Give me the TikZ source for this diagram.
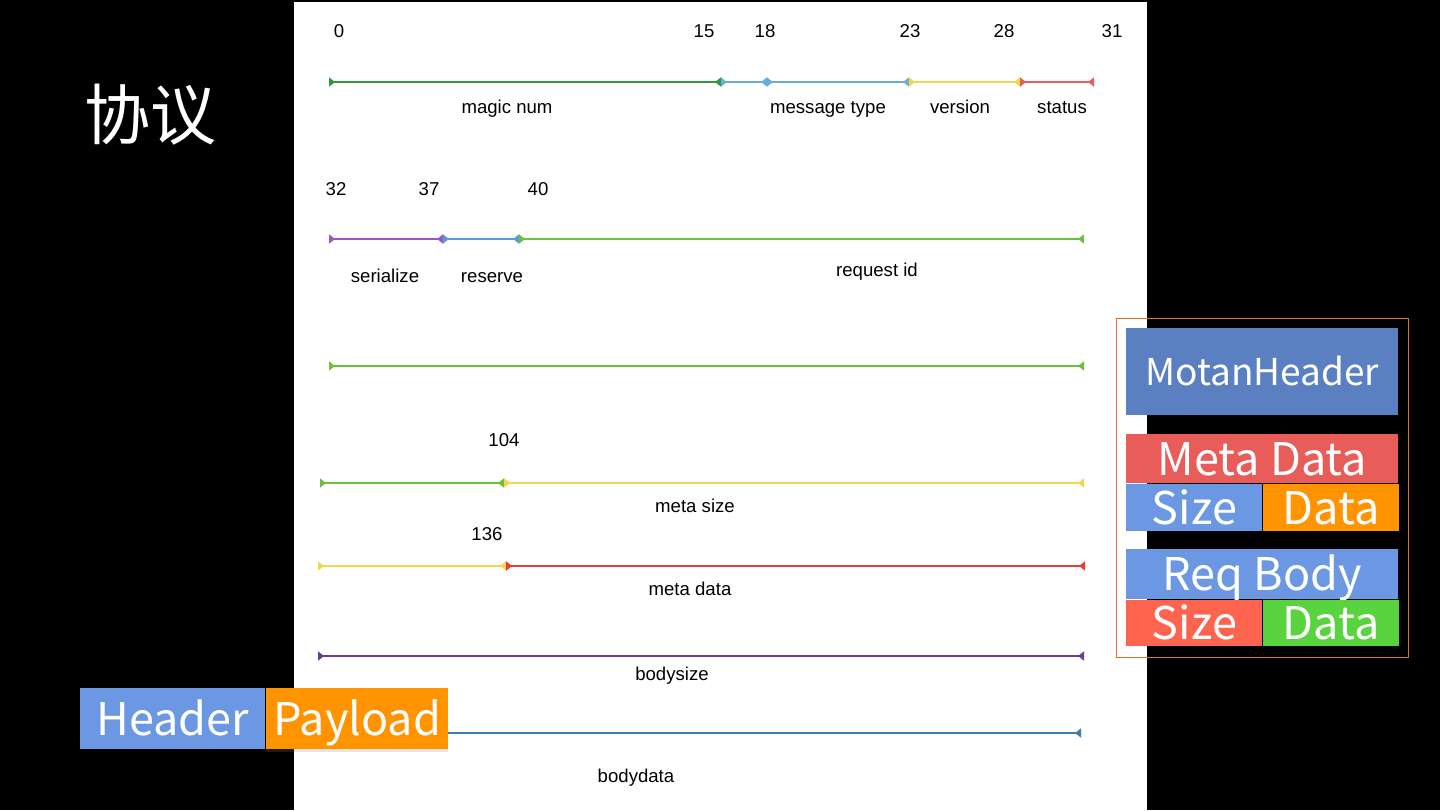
\documentclass[tikz,border=0pt]{standalone}
\usepackage{fontspec}
\setmainfont{Liberation Sans}
\newfontfamily\cjk{Noto Sans CJK SC}
\usetikzlibrary{positioning,arrows.meta,shadows}

\definecolor{magicgreen}{HTML}{2F9A3A}
\definecolor{msgblue}{HTML}{6AAEDC}
\definecolor{veryellow}{HTML}{F2D64B}
\definecolor{statred}{HTML}{EC5A5A}
\definecolor{serpurple}{HTML}{9B55C4}
\definecolor{resblue}{HTML}{5B9BD5}
\definecolor{reqgreen}{HTML}{6CBF3F}
\definecolor{metared}{HTML}{E83A3A}
\definecolor{bodypurple}{HTML}{6B3A94}
\definecolor{bodyteal}{HTML}{3D7EA6}
\definecolor{motanblue}{HTML}{5B80C2}
\definecolor{boxred}{HTML}{E85C5A}
\definecolor{boxblue}{HTML}{6B97E3}
\definecolor{boxorange}{HTML}{FF9300}
\definecolor{sizered}{HTML}{FF644E}
\definecolor{boxgreen}{HTML}{5AD43E}
\definecolor{frameorange}{HTML}{E07030}

\tikzset{Seg/.tip={Triangle[reversed,length=3pt,width=4.5pt]}}

\begin{document}
\begin{tikzpicture}[x=0.5pt,y=-0.5pt]
\tikzstyle{seg}=[line width=0.9pt, Seg-Seg]
\tikzstyle{lbl}=[inner sep=0pt, text height=7pt, text depth=2pt, font=\fontsize{9.3}{11}\selectfont]
\tikzstyle{block}=[anchor=north west, inner sep=0pt, text=white, text height=16.5pt, text depth=0pt, font=\cjk\fontsize{22.5}{22.5}\selectfont]
\tikzstyle{shade}=[drop shadow={shadow xshift=0pt, shadow yshift=-1.5pt, opacity=0.2}]

% background and sheet
\fill[black] (0,0) rectangle (1440,810);
\useasboundingbox (0,0) rectangle (1440,810);
\fill[white] (294,2) rectangle (1147,810);
\node[text=white, font=\cjk\fontsize{33}{33}\selectfont] (title) at (150,115) {协议};

% row 1
\coordinate (a0) at (329,82);
\coordinate (a15) at (721,82);
\coordinate (a18) at (767,82);
\coordinate (a23) at (909,82);
\coordinate (a28) at (1020,82);
\coordinate (a31) at (1094,82);
\draw[seg,magicgreen] (a0) -- (a15);
\draw[seg,msgblue] (a15) -- (a18);
\draw[seg,msgblue] (a18) -- (a23);
\draw[seg,veryellow] (a23) -- (a28);
\draw[seg,statred] (a28) -- (a31);
\node[lbl] (n0) at (339,32) {0};
\node[lbl] (n15) at (704,32) {15};
\node[lbl] (n18) at (765,32) {18};
\node[lbl] (n23) at (910,32) {23};
\node[lbl] (n28) at (1004,32) {28};
\node[lbl] (n31) at (1112,32) {31};
\node[lbl] (magic) at (507,108) {magic num};
\node[lbl] (msgtype) at (828,108) {message type};
\node[lbl] (version) at (960,108) {version};
\node[lbl] (status) at (1062,108) {status};

% row 2
\coordinate (b32) at (329,239);
\coordinate (b37) at (443,239);
\coordinate (b40) at (519,239);
\coordinate (b63) at (1084,239);
\draw[seg,serpurple] (b32) -- (b37);
\draw[seg,resblue] (b37) -- (b40);
\draw[seg,reqgreen] (b40) -- (b63);
\node[lbl] (n32) at (336,190) {32};
\node[lbl] (n37) at (429,190) {37};
\node[lbl] (n40) at (538,190) {40};
\node[lbl] (serialize) at (385,277) {serialize};
\node[lbl] (reserve) at (492,277) {reserve};
\node[lbl] (reqid) at (877,271) {request id};

% row 3
\coordinate (c64) at (329,366);
\coordinate (c95) at (1084,366);
\draw[seg,reqgreen] (c64) -- (c95);

% row 4
\coordinate (d96) at (320,483);
\coordinate (d104) at (504,483);
\coordinate (d127) at (1084,483);
\draw[seg,reqgreen] (d96) -- (d104);
\draw[seg,veryellow] (d104) -- (d127);
\node[lbl] (n104) at (504,441) {104};
\node[lbl] (metasize) at (695,507) {meta size};

% row 5
\coordinate (e128) at (318,566);
\coordinate (e136) at (506,566);
\coordinate (e159) at (1085,566);
\draw[seg,veryellow] (e128) -- (e136);
\draw[seg,metared] (e136) -- (e159);
\node[lbl] (n136) at (487,535) {136};
\node[lbl] (metadata) at (690,590) {meta data};

% row 6
\coordinate (f1) at (318,656);
\coordinate (f2) at (1084,656);
\draw[seg,bodypurple] (f1) -- (f2);
\node[lbl] (bodysize) at (672,675) {bodysize};

% row 7
\coordinate (g1) at (318,733);
\coordinate (g2) at (1081,733);
\draw[seg,bodyteal] (g1) -- (g2);
\node[lbl] (bodydata) at (636,777) {bodydata};

% motan stack
\node[draw=frameorange, line width=0.5pt, anchor=north west, minimum width=146pt, minimum height=169.5pt] (stack) at (1116,318) {};
\node[block, fill=motanblue, minimum width=136pt, minimum height=43.5pt, text height=13.6pt, font=\cjk\fontsize{18.5}{18.5}\selectfont] (motan) at (1126,328) {MotanHeader};
\node[block, fill=boxred, minimum width=136pt, minimum height=24.5pt] (meta) at (1126,434) {Meta Data};
\node[block, fill=boxblue, minimum width=68pt, minimum height=23.5pt] (msize) at (meta.south west) {Size};
\node[block, fill=boxorange, minimum width=68pt, minimum height=23.5pt] (mdata) at (msize.north east) {Data};
\node[block, fill=boxblue, minimum width=136pt, minimum height=25pt] (body) at (1126,549) {Req Body};
\node[block, fill=sizered, minimum width=68pt, minimum height=23pt] (rsize) at (body.south west) {Size};
\node[block, fill=boxgreen, minimum width=68pt, minimum height=23pt] (rdata) at (rsize.north east) {Data};

% header / payload
\node[block, fill=boxblue, minimum width=92.5pt, minimum height=30.5pt] (header) at (80,688) {Header};
\node[block, shade, fill=boxorange, minimum width=91pt, minimum height=30.5pt] (payload) at (header.north east) {Payload};
\end{tikzpicture}
\end{document}
